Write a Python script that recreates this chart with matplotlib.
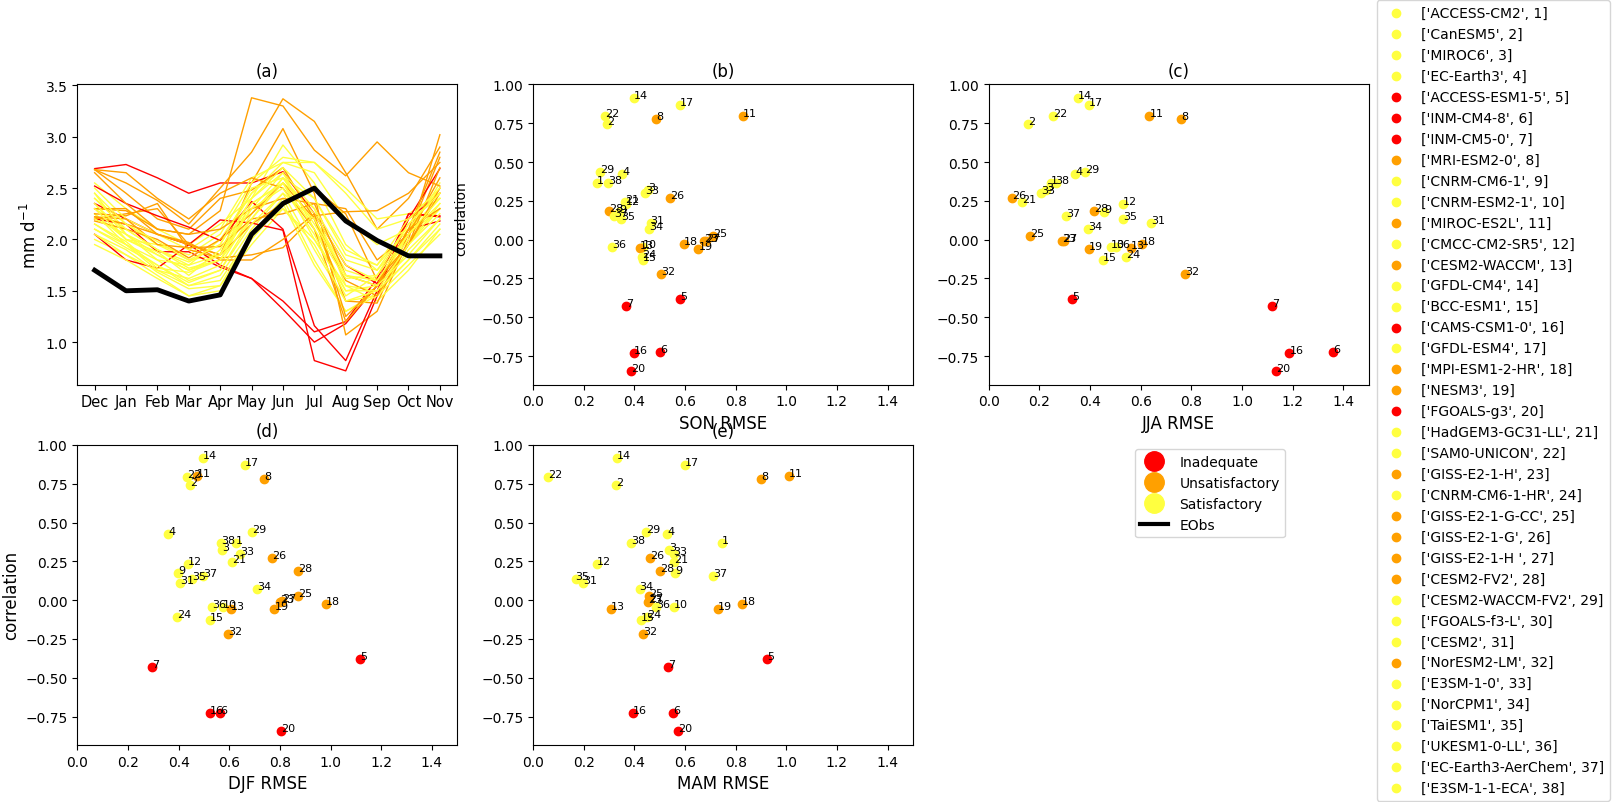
import numpy as np
import matplotlib
matplotlib.use("Agg")
import matplotlib.pyplot as plt
from matplotlib.lines import Line2D

nan = np.nan

model_names = ['ACCESS-CM2', 'CanESM5', 'MIROC6', 'EC-Earth3', 'ACCESS-ESM1-5', 'INM-CM4-8',
               'INM-CM5-0', 'MRI-ESM2-0', 'CNRM-CM6-1', 'CNRM-ESM2-1', 'MIROC-ES2L', 'CMCC-CM2-SR5',
               'CESM2-WACCM', 'GFDL-CM4', 'BCC-ESM1', 'CAMS-CSM1-0', 'GFDL-ESM4', 'MPI-ESM1-2-HR',
               'NESM3', 'FGOALS-g3', 'HadGEM3-GC31-LL', 'SAM0-UNICON', 'GISS-E2-1-H', 'CNRM-CM6-1-HR',
               'GISS-E2-1-G-CC', 'GISS-E2-1-G', 'GISS-E2-1-H ', 'CESM2-FV2', 'CESM2-WACCM-FV2',
               'FGOALS-f3-L', 'CESM2', 'NorESM2-LM', 'E3SM-1-0', 'NorCPM1', 'TaiESM1', 'UKESM1-0-LL',
               'EC-Earth3-AerChem', 'E3SM-1-1-ECA']

# category: 0 Inadequate, 1 Unsatisfactory, 2 Satisfactory
category = [2, 2, 2, 2, 0, 0, 0, 1, 2, 2, 1, 2, 1, 2, 2, 0, 2, 1, 1, 0,
            2, 2, 1, 2, 1, 1, 1, 1, 2, 2, 2, 1, 2, 2, 2, 2, 2, 2]

category_names = ['Inadequate', 'Unsatisfactory', 'Satisfactory']

correlation = [0.368, 0.742, 0.322, 0.424, -0.381, -0.725, -0.428, 0.778, 0.178, -0.047,
               0.798, 0.230, -0.056, 0.914, -0.129, -0.729, 0.869, -0.028, -0.060, -0.845,
               0.243, 0.794, -0.009, -0.110, 0.026, 0.269, -0.006, 0.187, 0.437, nan,
               0.108, -0.219, 0.300, 0.071, 0.135, -0.047, 0.155, 0.368]

rmse_son = [0.253, 0.292, 0.454, 0.353, 0.580, 0.501, 0.366, 0.486, 0.340, 0.434,
            0.829, 0.366, 0.421, 0.399, 0.434, 0.399, 0.580, 0.596, 0.653, 0.387,
            0.363, 0.283, 0.674, 0.432, 0.711, 0.541, 0.684, 0.299, 0.263, nan,
            0.464, 0.505, 0.442, 0.458, 0.349, 0.312, 0.320, 0.296]

rmse_jja = [0.246, 0.155, 0.227, 0.341, 0.329, 1.360, 1.119, 0.760, 0.456, 0.481,
            0.634, 0.530, 0.560, 0.353, 0.452, 1.187, 0.395, 0.606, 0.395, 1.136,
            0.132, 0.254, 0.290, 0.543, 0.162, 0.092, 0.295, 0.416, 0.381, nan,
            0.642, 0.776, 0.207, 0.391, 0.530, 0.503, 0.304, 0.264]

rmse_djf = [0.625, 0.446, 0.572, 0.359, 1.117, 0.564, 0.296, 0.738, 0.399, 0.576,
            0.471, 0.437, 0.607, 0.497, 0.525, 0.525, 0.663, 0.982, 0.778, 0.805,
            0.611, 0.432, 0.800, 0.393, 0.871, 0.770, 0.809, 0.871, 0.691, nan,
            0.407, 0.596, 0.642, 0.711, 0.454, 0.533, 0.497, 0.567]

rmse_mam = [0.746, 0.328, 0.538, 0.529, 0.924, 0.553, 0.533, 0.900, 0.561, 0.557,
            1.011, 0.253, 0.308, 0.332, 0.426, 0.395, 0.600, 0.825, 0.730, 0.571,
            0.558, 0.059, 0.454, 0.450, 0.457, 0.462, 0.457, 0.501, 0.445, nan,
            0.197, 0.434, 0.555, 0.421, 0.168, 0.487, 0.711, 0.387]

months = ['Dec', 'Jan', 'Feb', 'Mar', 'Apr', 'May', 'Jun', 'Jul', 'Aug', 'Sep', 'Oct', 'Nov']

eobs = [1.70, 1.50, 1.51, 1.40, 1.46, 2.05, 2.35, 2.50, 2.18, 1.99, 1.84, 1.84]

monthly = [
    [2.45, 2.05, 1.90, 1.75, 2.00, 2.45, 2.70, 2.20, 1.70, 1.60, 1.95, 2.30],  # 1
    [2.55, 2.30, 2.10, 1.95, 2.15, 2.40, 2.92, 2.55, 1.95, 1.70, 2.05, 2.55],  # 2
    [2.25, 1.95, 1.80, 1.60, 1.70, 2.20, 2.60, 2.40, 1.85, 1.75, 2.10, 2.40],  # 3
    [2.35, 2.00, 1.95, 1.80, 1.85, 2.35, 2.55, 2.30, 1.55, 1.50, 1.95, 2.35],  # 4
    [2.69, 2.73, 2.60, 2.45, 2.55, 2.55, 2.66, 2.25, 1.75, 1.57, 2.25, 2.23],  # 5
    [2.35, 2.20, 2.05, 1.95, 1.75, 1.62, 1.40, 1.10, 1.20, 1.62, 2.20, 2.45],  # 6
    [2.20, 2.15, 1.88, 1.88, 1.73, 1.62, 1.32, 1.00, 1.18, 1.55, 2.10, 2.18],  # 7
    [2.68, 2.55, 2.38, 2.15, 2.50, 2.85, 3.37, 3.15, 2.65, 2.10, 2.40, 2.90],  # 8
    [2.10, 1.95, 1.75, 1.55, 1.65, 2.10, 2.45, 1.90, 1.40, 1.45, 1.90, 2.20],  # 9
    [2.05, 1.90, 1.68, 1.52, 1.55, 2.05, 2.40, 1.80, 1.30, 1.48, 1.80, 2.15],  # 10
    [2.30, 2.28, 2.10, 2.05, 2.28, 3.38, 3.30, 2.87, 2.62, 2.95, 2.65, 2.52],  # 11
    [2.25, 2.00, 1.85, 1.70, 1.80, 2.30, 2.65, 2.10, 1.50, 1.55, 2.05, 2.30],  # 12
    [2.20, 2.25, 2.30, 1.95, 1.85, 2.55, 3.08, 2.45, 1.07, 1.30, 2.00, 3.02],  # 13
    [2.30, 2.10, 1.90, 1.78, 1.95, 2.45, 2.75, 2.75, 2.50, 2.20, 2.25, 2.45],  # 14
    [2.00, 1.85, 1.65, 1.45, 1.55, 1.95, 2.30, 2.00, 1.55, 1.40, 1.70, 2.10],  # 15
    [2.05, 1.80, 1.72, 1.95, 2.19, 2.16, 2.09, 0.82, 0.72, 1.45, 2.25, 2.22],  # 16
    [2.40, 2.15, 1.95, 1.85, 2.05, 2.55, 2.80, 2.75, 2.45, 2.10, 2.20, 2.40],  # 17
    [2.68, 2.45, 2.20, 2.10, 2.40, 2.48, 2.70, 2.20, 1.40, 1.38, 2.05, 2.80],  # 18
    [2.25, 2.23, 2.35, 1.90, 1.82, 1.85, 1.92, 2.23, 2.27, 2.28, 2.45, 2.75],  # 19
    [2.52, 2.35, 2.23, 2.12, 1.99, 2.37, 2.10, 1.16, 0.82, 1.50, 2.20, 2.69],  # 20
    [2.15, 1.95, 1.70, 1.62, 1.75, 2.25, 2.60, 2.25, 1.75, 1.60, 2.00, 2.30],  # 21
    [2.50, 2.20, 2.05, 1.90, 2.10, 2.60, 2.75, 2.65, 2.20, 1.95, 2.10, 2.50],  # 22
    [2.22, 2.20, 1.95, 1.92, 1.93, 2.20, 2.25, 2.35, 2.30, 1.80, 2.05, 2.60],  # 23
    [1.95, 1.80, 1.62, 1.45, 1.50, 2.00, 2.35, 1.75, 1.30, 1.45, 1.75, 2.05],  # 24
    [2.18, 2.10, 2.00, 1.82, 2.00, 2.25, 2.55, 2.20, 1.60, 1.45, 1.95, 2.70],  # 25
    [2.65, 2.35, 2.10, 2.05, 2.10, 2.30, 2.40, 2.35, 1.65, 1.55, 2.10, 2.85],  # 26
    [2.30, 2.30, 2.05, 1.95, 1.85, 2.15, 2.35, 2.50, 2.25, 1.60, 1.95, 2.45],  # 27
    [2.68, 2.65, 2.40, 2.20, 2.45, 2.60, 2.50, 2.10, 1.20, 1.55, 2.10, 2.30],  # 28
    [2.40, 2.10, 1.90, 1.72, 1.80, 2.35, 2.55, 2.10, 1.62, 1.65, 2.15, 2.45],  # 29
    [nan] * 12,                                                                # 30
    [2.20, 2.05, 1.80, 1.75, 1.85, 2.30, 2.50, 2.05, 1.45, 1.65, 2.05, 2.35],  # 31
    [2.22, 2.15, 2.05, 1.97, 1.80, 1.80, 2.00, 2.25, 1.25, 1.55, 1.95, 2.50],  # 32
    [2.30, 2.00, 1.88, 1.65, 1.90, 2.40, 2.65, 2.30, 1.80, 1.70, 2.15, 2.45],  # 33
    [2.10, 1.92, 1.75, 1.58, 1.70, 2.15, 2.45, 2.20, 1.65, 1.55, 1.85, 2.20],  # 34
    [2.15, 1.98, 1.72, 1.68, 1.80, 2.20, 2.55, 2.00, 1.50, 1.50, 1.95, 2.25],  # 35
    [2.05, 1.85, 1.70, 1.55, 1.60, 2.05, 2.30, 1.95, 1.40, 1.50, 1.80, 2.10],  # 36
    [2.35, 2.05, 1.85, 1.70, 1.85, 2.40, 2.70, 2.40, 1.90, 1.75, 2.20, 2.50],  # 37
    [2.45, 2.15, 1.98, 1.80, 1.95, 2.50, 2.60, 2.15, 1.65, 1.60, 2.05, 2.40],  # 38
]

cat_colors = ['#ff0000', '#ffa000', '#ffff40']

fig = plt.figure(figsize=(16.12, 8.03), dpi=100)
gs = fig.add_gridspec(2, 3, left=0.048, right=0.849, top=0.894, bottom=0.071,
                      wspace=0.2, hspace=0.2)
axa = fig.add_subplot(gs[0, 0])
axb = fig.add_subplot(gs[0, 1])
axc = fig.add_subplot(gs[0, 2])
axd = fig.add_subplot(gs[1, 0])
axe = fig.add_subplot(gs[1, 1])

x = np.arange(len(months))
for i, vals in enumerate(monthly):
    axa.plot(x, vals, color=cat_colors[category[i]], lw=1.0)
axa.plot(x, eobs, color='black', lw=3.5)
axa.set_xticks(x)
axa.set_xticklabels(months, fontsize=10.5)
axa.set_ylabel('mm d$^{-1}$', fontsize=12)
axa.set_title('(a)', fontsize=12)

panels = [(axb, rmse_son, 'SON RMSE', '(b)'),
          (axc, rmse_jja, 'JJA RMSE', '(c)'),
          (axd, rmse_djf, 'DJF RMSE', '(d)'),
          (axe, rmse_mam, 'MAM RMSE', '(e)')]

handles = []
for ax, rm, xl, title in panels:
    hs = []
    for i in range(len(model_names)):
        h = ax.scatter(rm[i], correlation[i], color=cat_colors[category[i]], s=36,
                       label=str([model_names[i], i + 1]), zorder=2)
        hs.append(h)
        if not np.isnan(rm[i]):
            ax.text(rm[i], correlation[i], str(i + 1), fontsize=8, zorder=3)
    if not handles:
        handles = hs
    ax.set_xlim(0, 1.5)
    ax.set_yticks([-0.75, -0.5, -0.25, 0.0, 0.25, 0.5, 0.75, 1.0])
    ax.set_xlabel(xl, fontsize=12)
    ax.set_title(title, fontsize=12)

axb.set_ylabel('correlation', fontsize=10)
axb.yaxis.set_label_coords(-0.17, 0.555)
axd.set_ylabel('correlation', fontsize=12)

labels = [str([model_names[i], i + 1]) for i in range(len(model_names))]
fig.legend(handles, labels, loc='center left', bbox_to_anchor=(0.854, 0.5),
           fontsize=10, scatterpoints=1, borderaxespad=0.0)

cat_handles = [Line2D([], [], marker='o', ls='', color=c, markersize=14) for c in cat_colors]
cat_handles.append(Line2D([], [], color='black', lw=3))
fig.legend(cat_handles, category_names + ['EObs'], loc='upper left',
           bbox_to_anchor=(0.704, 0.439), fontsize=10, borderaxespad=0.0)

fig.savefig('out.png', dpi=100)
